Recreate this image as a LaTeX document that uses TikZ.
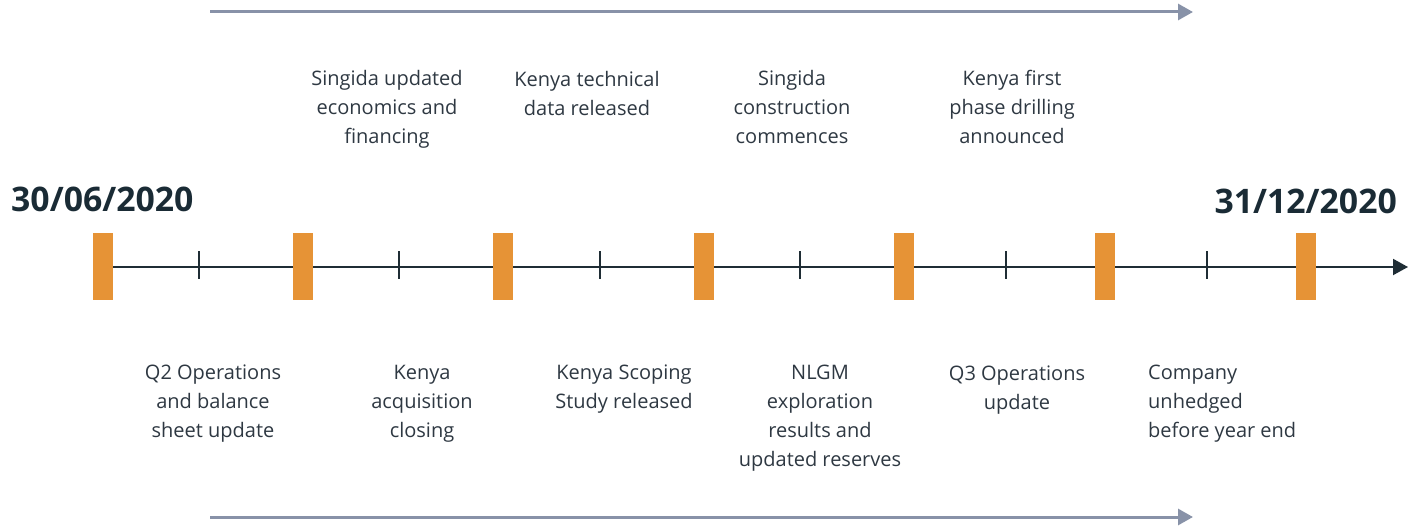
\documentclass[tikz,border=0pt]{standalone}
\usepackage{fontspec}
\setmainfont{Open Sans}
\usetikzlibrary{arrows.meta}
\definecolor{txt}{HTML}{2E3842}
\definecolor{datec}{HTML}{1A2B35}
\definecolor{linec}{HTML}{1F2D35}
\definecolor{barc}{HTML}{E69336}
\definecolor{arrc}{HTML}{8892A8}
\tikzset{
  lbl/.style={text=txt, font=\fontsize{20}{29}\selectfont, align=center, inner sep=0pt},
  datelbl/.style={text=datec, font=\fontsize{33.8}{40}\selectfont\bfseries, inner sep=0pt},
  bar/.style={fill=barc, draw=none, minimum width=20pt, minimum height=67pt, inner sep=0pt},
  tick/.style={draw=linec, line width=2pt},
  guide/.style={draw=arrc, line width=3pt, -{Triangle[length=15pt,width=16pt]}},
}
\begin{document}
\begin{tikzpicture}[x=1pt,y=-1pt]
\useasboundingbox (0,0) rectangle (1408,527);
% guide arrows
\coordinate (ga1) at (210,12);
\coordinate (gb1) at (1193,12);
\coordinate (ga2) at (210,517);
\coordinate (gb2) at (1193,517);
\draw[guide] (ga1) -- (gb1);
\draw[guide] (ga2) -- (gb2);
% timeline
\coordinate (tl0) at (93,267);
\coordinate (tl1) at (1408,267);
\draw[draw=linec, line width=2pt, -{Triangle[length=15pt,width=16pt]}] (tl0) -- (tl1);
% ticks
\foreach \x [count=\i] in {199,399,600,800,1006,1207}{
  \coordinate (ta\i) at (\x,251);
  \coordinate (tb\i) at (\x,279);
  \draw[tick] (ta\i) -- (tb\i);
}
% bars
\foreach \x [count=\i] in {103,302.5,503,704,904,1105,1305.5}{
  \node[bar] (bar\i) at (\x,266.5) {};
}
% dates
\node[datelbl, anchor=west] (d1) at (11,199) {30/06/2020};
\node[datelbl, anchor=east] (d2) at (1397,201) {31/12/2020};
% top labels
\node[lbl, anchor=north] (t1) at (387,70) {Singida updated\\economics and\\financing};
\node[lbl, anchor=north] (t2) at (587,71) {Kenya technical\\data released};
\node[lbl, anchor=north] (t3) at (792,70) {Singida\\construction\\commences};
\node[lbl, anchor=north] (t4) at (1012,70) {Kenya first\\phase drilling\\announced};
% bottom labels
\node[lbl, anchor=north] (b1) at (213,365) {Q2 Operations\\and balance\\sheet update};
\node[lbl, anchor=north] (b2) at (422,365) {Kenya\\acquisition\\closing};
\node[lbl, anchor=north] (b3) at (624,365) {Kenya Scoping\\Study released};
\node[lbl, anchor=north] (b4) at (820,365) {NLGM\\exploration\\results and\\updated reserves};
\node[lbl, anchor=north] (b5) at (1017,366) {Q3 Operations\\update};
\node[lbl, anchor=north west, align=left] (b6) at (1148,365) {Company\\unhedged\\before year end};
\end{tikzpicture}
\end{document}
